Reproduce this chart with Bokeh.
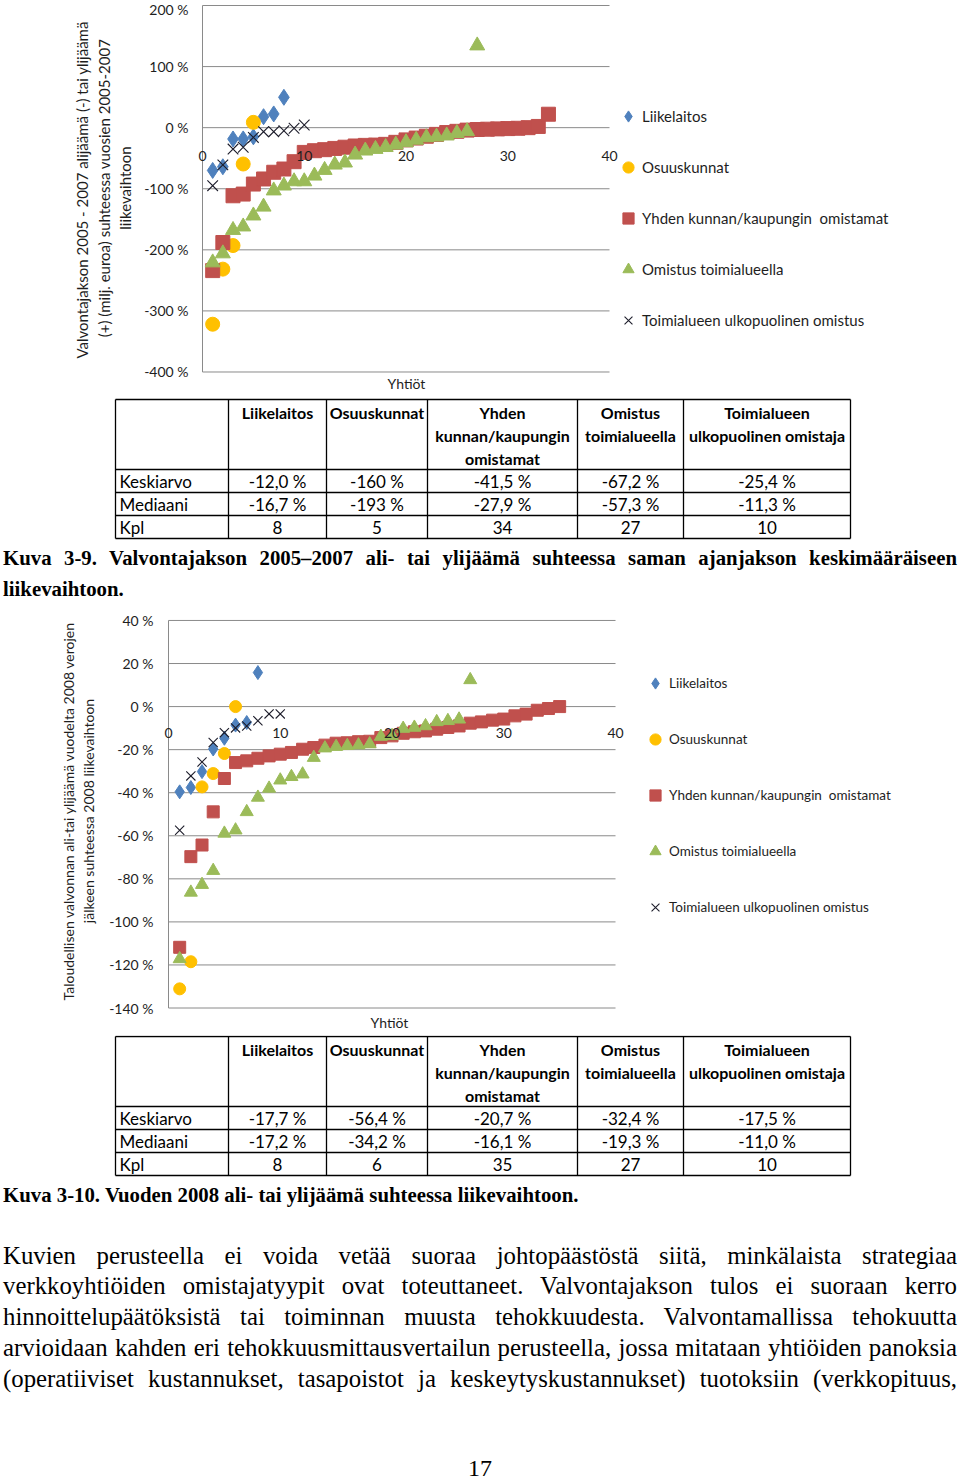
from bokeh.plotting import figure
from bokeh.models import Range1d, FixedTicker, LinearAxis, Div, Title
from bokeh.layouts import column
from bokeh.core.properties import value
from bokeh.embed import file_html
from bokeh.resources import INLINE

# ---------------- data: chart 1 (2005-2007) ----------------
series_names = ["Liikelaitos", "Osuuskunnat", "Yhden kunnan/kaupungin  omistamat",
                "Omistus toimialueella", "Toimialueen ulkopuolinen omistus"]

c1_liikelaitos = [-70.0, -64.0, -18.5, -18.4, -15.0, 18.0, 22.5, 49.7]
c1_osuuskunnat = [-321.8, -231.6, -193.0, -59.5, 8.7]
c1_yhden = [-234, -188, -111.5, -108.7, -92.3, -84, -73, -67.7, -55.7, -40.5,
            -37.7, -36, -34, -32, -30, -29, -28.5, -27.3, -24, -20,
            -17, -14, -11, -8, -6, -4, -3, -2.5, -2, -1.5,
            -1, 0, 2, 22]
c1_omistus = [-220.8, -206, -167.7, -162, -144, -129.5, -103, -95, -88, -88,
              -78.7, -69.4, -60.7, -57.3, -44.3, -37.7, -35, -32, -28, -24,
              -20, -16, -14.8, -13, -9, -6, 134.4]
c1_ulko = [-95, -61, -35, -32, -16, -6.6, -6.6, -5, -1, 4.4]

c1_yticks = [-400, -300, -200, -100, 0, 100, 200]

# ---------------- data: chart 2 (2008) ----------------
c2_liikelaitos = [-39.6, -37.6, -30.2, -19.7, -14.7, -8.6, -7.4, 15.8]
c2_osuuskunnat = [-131.1, -118.5, -37.3, -31.1, -21.8, 0.0]
c2_yhden = [-111.8, -69.7, -64.3, -48.9, -33.4, -26, -25.2, -24, -22.9, -22.1,
            -21.3, -19.8, -19, -17.9, -17, -16.8, -16.3, -16.1, -14.4, -13.6,
            -12.4, -11.7, -11.3, -10.5, -9.7, -9, -7.7, -7.1, -6.3, -5.8,
            -4.3, -3.5, -1.7, -0.9, 0.0]
c2_omistus = [-117.2, -86.3, -82.7, -76.2, -58.9, -57.4, -48.9, -42.2, -38, -34.2,
              -32.6, -31.4, -23.7, -19.3, -18.6, -18.2, -17.9, -17.4, -13.9, -13.6,
              -10.2, -9.7, -9, -7.1, -6.6, -5.9, 12.4]
c2_ulko = [-57.4, -32.2, -25.7, -16.7, -12.1, -9.9, -9, -6.6, -3.4, -3.4]

c2_yticks = [-140, -120, -100, -80, -60, -40, -20, 0, 20, 40]

x_ticks = [0, 10, 20, 30, 40]

# ---------------- table data ----------------
tbl_headers = [["Liikelaitos"], ["Osuuskunnat"], ["Yhden", "kunnan/kaupungin", "omistamat"],
               ["Omistus", "toimialueella"], ["Toimialueen", "ulkopuolinen omistaja"]]
tbl_rows = ["Keskiarvo", "Mediaani", "Kpl"]
t1_keskiarvo = ["-12,0 %", "-160 %", "-41,5 %", "-67,2 %", "-25,4 %"]
t1_mediaani = ["-16,7 %", "-193 %", "-27,9 %", "-57,3 %", "-11,3 %"]
t1_kpl = ["8", "5", "34", "27", "10"]
t2_keskiarvo = ["-17,7 %", "-56,4 %", "-20,7 %", "-32,4 %", "-17,5 %"]
t2_mediaani = ["-17,2 %", "-34,2 %", "-16,1 %", "-19,3 %", "-11,0 %"]
t2_kpl = ["8", "6", "35", "27", "10"]

caption1_l1 = "Kuva 3-9. Valvontajakson 2005–2007 ali- tai ylijäämä suhteessa saman ajanjakson keskimääräiseen"
caption1_l2 = "liikevaihtoon."
caption2 = "Kuva 3-10. Vuoden 2008 ali- tai ylijäämä suhteessa liikevaihtoon."
body_lines = [
    "Kuvien perusteella ei voida vetää suoraa johtopäästöstä siitä, minkälaista strategiaa",
    "verkkoyhtiöiden omistajatyypit ovat toteuttaneet. Valvontajakson tulos ei suoraan kerro",
    "hinnoittelupäätöksistä tai toiminnan muusta tehokkuudesta. Valvontamallissa tehokuutta",
    "arvioidaan kahden eri tehokkuusmittausvertailun perusteella, jossa mitataan yhtiöiden panoksia",
    "(operatiiviset kustannukset, tasapoistot ja keskeytyskustannukset) tuotoksiin (verkkopituus,",
]
page_no = "17"

# ---------------- styling ----------------
FONT = "Lato"
GRID = "#8a8a8a"
TXT = "#1e1e1e"
C_BLUE, C_YEL, C_RED, C_GRN, C_X = "#4F81BD", "#FFC000", "#C0504D", "#9BBB59", "#1d1d2b"
W = 960


def chart(height, left, top, bottom, xr, yr, yticks, ylabel, ylabel_size, ylabel_standoff,
          ytick_standoff, xstandoff, title_offset, title_standoff, data, sizes, legend_pos,
          legend_spacing, legend_size):
    p = figure(width=W, height=height, x_range=Range1d(*xr), y_range=Range1d(*yr),
               output_backend="svg", toolbar_location=None,
               x_axis_type=None, y_axis_type=None,
               min_border_left=left, min_border_right=0,
               min_border_top=top, min_border_bottom=bottom)
    p.frame_align = False
    p.outline_line_color = None
    p.background_fill_color = "white"

    # horizontal gridlines over the 0..40 company span, and the vertical axis line at x=0
    n = len(yticks)
    p.segment(x0=[x_ticks[0]] * n, x1=[x_ticks[-1]] * n, y0=yticks, y1=yticks,
              line_color=GRID, line_width=1)
    p.segment(x0=[x_ticks[0]], x1=[x_ticks[0]], y0=[yticks[0]], y1=[yticks[-1]],
              line_color=GRID, line_width=1)

    yax = LinearAxis(ticker=FixedTicker(ticks=yticks),
                     major_label_overrides={t: f"{t} %" for t in yticks},
                     axis_label=ylabel, bounds=(yticks[0], yticks[-1]))
    yax.axis_line_color = None
    yax.major_tick_line_color = None
    yax.minor_tick_line_color = None
    yax.major_tick_out = 0
    yax.major_label_standoff = ytick_standoff
    yax.major_label_text_font = FONT
    yax.major_label_text_font_size = "14px"
    yax.major_label_text_color = TXT
    yax.axis_label_text_font = FONT
    yax.axis_label_text_font_size = ylabel_size
    yax.axis_label_text_font_style = "normal"
    yax.axis_label_text_color = TXT
    yax.axis_label_standoff = ylabel_standoff
    p.add_layout(yax, "left")

    xax = LinearAxis(ticker=FixedTicker(ticks=x_ticks), fixed_location=0)
    xax.axis_line_color = None
    xax.major_tick_line_color = None
    xax.minor_tick_line_color = None
    xax.major_tick_out = 0
    xax.major_label_standoff = xstandoff
    xax.major_label_text_font = FONT
    xax.major_label_text_font_size = "14px"
    xax.major_label_text_color = TXT
    p.add_layout(xax, "below")

    # x-axis title "Yhtiöt", placed under the middle of the 0..40 span
    p.add_layout(Title(text="Yhtiöt", align="left", vertical_align="top",
                       offset=title_offset, standoff=title_standoff,
                       text_font=FONT, text_font_size="14px",
                       text_font_style="normal", text_color=TXT), "below")

    liike, osuus, yhden, omis, ulko = data
    sd, sc, ss, st, sx = sizes
    p.scatter(list(range(1, len(liike) + 1)), liike, marker="diamond", size=sd,
              fill_color=C_BLUE, line_color=C_BLUE, legend_label=series_names[0])
    p.scatter(list(range(1, len(osuus) + 1)), osuus, marker="circle", size=sc,
              fill_color=C_YEL, line_color=C_YEL, legend_label=series_names[1])
    p.scatter(list(range(1, len(yhden) + 1)), yhden, marker="square", size=ss,
              fill_color=C_RED, line_color=C_RED, legend_label=series_names[2])
    p.scatter(list(range(1, len(omis) + 1)), omis, marker="triangle", size=st,
              fill_color=C_GRN, line_color=C_GRN, legend_label=series_names[3])
    p.scatter(list(range(1, len(ulko) + 1)), ulko, marker="x", size=sx,
              line_color=C_X, line_width=1.1, legend_label=series_names[4])

    lg = p.legend[0]
    lg.location = legend_pos
    lg.glyph_width = 28
    lg.glyph_height = 28
    lg.label_height = 28
    lg.spacing = legend_spacing
    lg.padding = 0
    lg.margin = 0
    lg.label_standoff = 0
    lg.border_line_color = None
    lg.background_fill_alpha = 0
    lg.label_text_font = FONT
    lg.label_text_font_size = legend_size
    lg.label_text_color = TXT
    return p


# chart 1: page rows 0..393, frame rows 0..375, frame cols 192..960; x=0 at col 202, x=40 at col 609
fig1 = chart(393, 192, 0, 18, (-0.983, 74.496), (-405.73, 208.19), c1_yticks,
             "Valvontajakson 2005 - 2007 alijäämä  (-) tai ylijäämä\n(+) (milj. euroa) suhteessa vuosien 2005-2007\nliikevaihtoon",
             "15px", 7, 4, 23, 195, -2,
             (c1_liikelaitos, c1_osuuskunnat, c1_yhden, c1_omistus, c1_ulko),
             (16, 14, 14, 15, 15), (422, 41), 23, "15px")

# chart 2: page rows 605..1035, frame rows 610..1012, frame cols 158..960; x=0 at col 168, x=40 at col 615
fig2 = chart(430, 158, 5, 23, (-0.895, 70.87), (-141.62, 44.63), c2_yticks,
             "Taloudellisen valvonnan ali-tai ylijäämä vuodelta 2008 verojen\njälkeen suhteessa 2008 liikevaihtoon",
             "14px", 9, 5, 21, 212, 5,
             (c2_liikelaitos, c2_osuuskunnat, c2_yhden, c2_omistus, c2_ulko),
             (14, 12, 12, 13, 13), (483, 90), 28, "13.5px")

# ---------------- tables ----------------
COL_X = [115, 228, 326, 427, 577, 683, 850]
ROW_OFF = [0, 70, 93, 116, 139]


def table(page_top, height, tbl_top, keskiarvo, mediaani, kpl):
    p = figure(width=W, height=height, x_range=Range1d(0, W),
               y_range=Range1d(page_top + height, page_top),
               output_backend="svg", toolbar_location=None,
               x_axis_type=None, y_axis_type=None, min_border=0)
    p.frame_align = False
    p.outline_line_color = None
    ys = [tbl_top + r for r in ROW_OFF]
    p.segment(x0=[COL_X[0]] * len(ys), x1=[COL_X[-1]] * len(ys), y0=ys, y1=ys,
              line_color="black", line_width=1.3)
    p.segment(x0=COL_X, x1=COL_X, y0=[ys[0]] * len(COL_X), y1=[ys[-1]] * len(COL_X),
              line_color="black", line_width=1.3)
    centers = [(COL_X[i + 1] + COL_X[i + 2]) / 2 for i in range(5)]
    hx, hy, ht = [], [], []
    for c, lines in zip(centers, tbl_headers):
        for k, t in enumerate(lines):
            hx.append(c)
            hy.append(tbl_top + 13 + 23 * k)
            ht.append(t)
    p.text(hx, hy, text=ht, text_align="center", text_baseline="middle",
           text_font=value(FONT), text_font_size="16px", text_color="black",
           text_font_style="bold")
    ry = [tbl_top + 82 + 23 * j for j in range(3)]
    p.text([COL_X[0] + 4] * 3, ry, text=tbl_rows, text_align="left", text_baseline="middle",
           text_font=value(FONT), text_font_size="17px", text_color="black")
    vx, vy, vt = [], [], []
    for j, row in enumerate([keskiarvo, mediaani, kpl]):
        for c, t in zip(centers, row):
            vx.append(c)
            vy.append(ry[j])
            vt.append(t)
    p.text(vx, vy, text=vt, text_align="center", text_baseline="middle",
           text_font=value(FONT), text_font_size="17px", text_color="black")
    return p


tab1 = table(393, 148, 399, t1_keskiarvo, t1_mediaani, t1_kpl)
tab2 = table(1035, 145, 1036, t2_keskiarvo, t2_mediaani, t2_kpl)

# ---------------- text blocks ----------------
SERIF = "'Liberation Serif','Times New Roman',serif"


def line_div(text, top, size, lh, bold=False, justify=True, left=3, width=954, center=False):
    align = "center" if center else ("justify" if justify else "left")
    last = "justify" if justify else align
    return (f'<div style="position:absolute;left:{left}px;top:{top}px;width:{width}px;'
            f'font-family:{SERIF};font-size:{size}px;line-height:{lh}px;'
            f'font-weight:{"bold" if bold else "normal"};color:#000;'
            f'text-align:{align};text-align-last:{last};">{text}</div>')


cap1_html = ('<div style="position:relative;width:960px;height:64px;">'
             + line_div(caption1_l1, 5, 20.8, 24, bold=True)
             + line_div(caption1_l2, 36, 20.8, 24, bold=True, justify=False)
             + '</div>')
cap1 = Div(text=cap1_html, width=W, height=64, margin=(0, 0, 0, 0))

body_html = '<div style="position:relative;width:960px;height:300px;">'
body_html += line_div(caption2, 3, 20.8, 24, bold=True, justify=False)
for i, ln in enumerate(body_lines):
    body_html += line_div(ln, round(59.6 + 30.75 * i, 1), 24.8, 31)
body_html += line_div(page_no, 279, 24, 18, justify=False, left=0, width=960, center=True)
body_html += '</div>'
body = Div(text=body_html, width=W, height=300, margin=(0, 0, 0, 0))

layout = column(fig1, tab1, cap1, fig2, tab2, body, spacing=0)
open("out.html", "w").write(file_html(layout, INLINE, title="Kuva 3-9 ja 3-10"))
